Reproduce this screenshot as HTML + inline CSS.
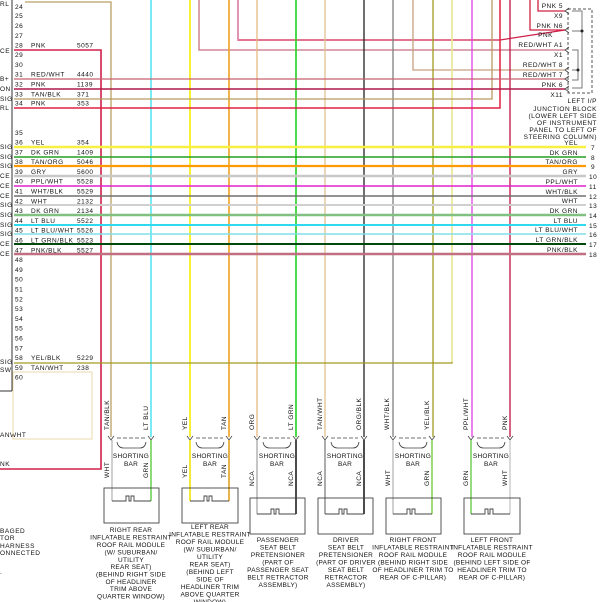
<!DOCTYPE html>
<html><head><meta charset="utf-8"><style>
html,body{margin:0;padding:0;background:#fff;}
svg{display:block;}
text{font-family:"Liberation Sans",sans-serif;font-size:6.5px;letter-spacing:0.5px;fill:#111;}
.c{text-anchor:middle;letter-spacing:0.25px;}
.r{text-anchor:end;}
</style></head><body>
<svg width="601" height="602" viewBox="0 0 601 602" xmlns="http://www.w3.org/2000/svg">
<rect width="601" height="602" fill="#fff"/>
<line x1="12" y1="0" x2="12" y2="391" stroke="#333" stroke-width="1"/>
<line x1="0" y1="391" x2="12" y2="391" stroke="#333"/>
<g>
<text x="0" y="6">RL</text><text x="0" y="53">CE</text><text x="0" y="81">B+</text><text x="0" y="91">ON</text><text x="0" y="101">SIG</text><text x="0" y="110">RL</text>
<text x="0" y="149">SIG</text><text x="0" y="159">SIG</text><text x="0" y="168">SIG</text><text x="0" y="178">CE</text><text x="0" y="188">CE</text><text x="0" y="198">CE</text><text x="0" y="207">SIG</text><text x="0" y="217">SIG</text><text x="0" y="227">SIG</text><text x="0" y="236">SIG</text><text x="0" y="246">CE</text><text x="0" y="256">CE</text>
<text x="0" y="364">SIG</text><text x="0" y="372">SW</text>
<text x="0" y="437">ANWHT</text><text x="0" y="466">NK</text>
<text x="0" y="533">BAGED</text><text x="0" y="540">TOR</text><text x="0" y="548">HARNESS</text><text x="0" y="555">ONNECTED</text><text x="0" y="574">.</text>
</g>
<g>
<text x="15" y="9">24</text><text x="15" y="18">25</text><text x="15" y="28">26</text><text x="15" y="38">27</text><text x="15" y="47.5">28</text><text x="15" y="57">29</text><text x="15" y="67">30</text><text x="15" y="76.5">31</text><text x="15" y="86.5">32</text><text x="15" y="96.5">33</text><text x="15" y="105.5">34</text>
<text x="15" y="135">35</text><text x="15" y="144.5">36</text><text x="15" y="154.3">37</text><text x="15" y="164">38</text><text x="15" y="174">39</text><text x="15" y="183.7">40</text><text x="15" y="193.5">41</text><text x="15" y="203.3">42</text><text x="15" y="213">43</text><text x="15" y="223">44</text><text x="15" y="232.7">45</text><text x="15" y="242.5">46</text><text x="15" y="252.3">47</text><text x="15" y="262">48</text><text x="15" y="272">49</text><text x="15" y="281.7">50</text><text x="15" y="291.5">51</text><text x="15" y="301.3">52</text><text x="15" y="311">53</text><text x="15" y="321">54</text><text x="15" y="330.7">55</text><text x="15" y="340.5">56</text><text x="15" y="350.3">57</text><text x="15" y="360">58</text><text x="15" y="370">59</text><text x="15" y="379.7">60</text>
</g>
<g>
<text x="31" y="47.5">PNK</text><text x="77" y="47.5">5057</text>
<text x="31" y="76.5">RED/WHT</text><text x="77" y="76.5">4440</text>
<text x="31" y="86.5">PNK</text><text x="77" y="86.5">1139</text>
<text x="31" y="96.5">TAN/BLK</text><text x="77" y="96.5">371</text>
<text x="31" y="105.5">PNK</text><text x="77" y="105.5">353</text>
<text x="31" y="144.5">YEL</text><text x="77" y="144.5">354</text>
<text x="31" y="154.3">DK GRN</text><text x="77" y="154.3">1409</text>
<text x="31" y="164">TAN/ORG</text><text x="77" y="164">5046</text>
<text x="31" y="174">GRY</text><text x="77" y="174">5600</text>
<text x="31" y="183.7">PPL/WHT</text><text x="77" y="183.7">5528</text>
<text x="31" y="193.5">WHT/BLK</text><text x="77" y="193.5">5529</text>
<text x="31" y="203.3">WHT</text><text x="77" y="203.3">2132</text>
<text x="31" y="213">DK GRN</text><text x="77" y="213">2134</text>
<text x="31" y="223">LT BLU</text><text x="77" y="223">5522</text>
<text x="31" y="232.7">LT BLU/WHT</text><text x="77" y="232.7">5526</text>
<text x="31" y="242.5">LT GRN/BLK</text><text x="77" y="242.5">5523</text>
<text x="31" y="252.3">PNK/BLK</text><text x="77" y="252.3">5527</text>
<text x="31" y="360">YEL/BLK</text><text x="77" y="360">5229</text>
<text x="31" y="370">TAN/WHT</text><text x="77" y="370">238</text>
</g>
<rect x="13" y="372" width="79" height="67" fill="none" stroke="#e8d8a8" stroke-width="1"/>
<g fill="none" stroke-width="1.3">
<polyline points="25,2 111,2 111,437" stroke="#b8a060"/>
<polyline points="14,50 101,50 101,469 0,469" stroke="#d0204a" stroke-width="1.6"/>
<line x1="151" y1="0" x2="151" y2="437" stroke="#30e0f0"/>
<line x1="190" y1="0" x2="190" y2="437" stroke="#f8f020" stroke-width="1.8"/>
<polyline points="199,0 199,50 565,50" stroke="#c87080"/>
<line x1="229" y1="0" x2="229" y2="437" stroke="#f0a020" stroke-width="1.6"/>
<polyline points="238,0 238,40 500,40 565,30" stroke="#d0204a"/>
<line x1="238" y1="0" x2="238" y2="40" stroke="#e090b0" stroke-width="1.8"/>
<line x1="257" y1="0" x2="257" y2="437" stroke="#e8b880"/>
<line x1="296" y1="0" x2="296" y2="437" stroke="#20d020" stroke-width="1.6"/>
<line x1="325" y1="0" x2="325" y2="437" stroke="#e0c090"/>
<line x1="364" y1="0" x2="364" y2="437" stroke="#222"/>
<line x1="393" y1="0" x2="393" y2="437" stroke="#808080"/>
<polyline points="413,0 413,70 565,70" stroke="#c8a080"/>
<line x1="433" y1="0" x2="433" y2="437" stroke="#a09a20"/>
<polyline points="14,363 452,363 452,0" stroke="#a09a20"/>
<line x1="452" y1="0" x2="452" y2="362" stroke="#f0f0a0" stroke-width="1.5"/>
<line x1="472" y1="0" x2="472" y2="437" stroke="#e040e0"/>
<polyline points="14,99 492,99 492,0" stroke="#b89a60"/>
<polyline points="14,108 500,108 500,0" stroke="#e02040" stroke-width="1.5"/>
<line x1="510" y1="0" x2="510" y2="437" stroke="#c01040"/>
<polyline points="530,0 530,30 565,30" stroke="#d02040"/>
<polyline points="538,0 538,11 565,11" stroke="#d02040"/>
<line x1="14" y1="79" x2="565" y2="79" stroke="#c86070"/>
<line x1="14" y1="89" x2="565" y2="89" stroke="#b01848" stroke-width="1.5"/>
</g>
<g stroke-width="1.5">
<line x1="14" y1="147" x2="586" y2="147" stroke="#f8f040" stroke-width="2.5"/>
<line x1="14" y1="157" x2="586" y2="157" stroke="#20a020"/>
<line x1="14" y1="166" x2="586" y2="166" stroke="#ff9a00" stroke-width="2.2"/>
<line x1="14" y1="176" x2="586" y2="176" stroke="#c8c8c8" stroke-width="2.5"/>
<line x1="14" y1="186" x2="586" y2="186" stroke="#e020d0"/>
<line x1="14" y1="196" x2="586" y2="196" stroke="#707070"/>
<line x1="14" y1="205" x2="586" y2="205" stroke="#d0d0d0" stroke-width="2"/>
<line x1="14" y1="215" x2="586" y2="215" stroke="#80c080" stroke-width="2.5"/>
<line x1="14" y1="225" x2="586" y2="225" stroke="#30d8f0" stroke-width="2"/>
<line x1="14" y1="234" x2="586" y2="234" stroke="#80e0e8"/>
<line x1="14" y1="244" x2="586" y2="244" stroke="#004a10" stroke-width="2"/>
<line x1="14" y1="254" x2="586" y2="254" stroke="#c07080" stroke-width="2.5"/>
</g>
<g>
<text class="r" x="578" y="145">YEL</text><text x="591" y="150">7</text>
<text class="r" x="578" y="155">DK GRN</text><text x="591" y="160">8</text>
<text class="r" x="578" y="164">TAN/ORG</text><text x="591" y="169">9</text>
<text class="r" x="578" y="174">GRY</text><text x="589" y="179">10</text>
<text class="r" x="578" y="184">PPL/WHT</text><text x="589" y="189">11</text>
<text class="r" x="578" y="194">WHT/BLK</text><text x="589" y="199">12</text>
<text class="r" x="578" y="203">WHT</text><text x="589" y="208">13</text>
<text class="r" x="578" y="213">DK GRN</text><text x="589" y="218">14</text>
<text class="r" x="578" y="223">LT BLU</text><text x="589" y="228">15</text>
<text class="r" x="578" y="232">LT BLU/WHT</text><text x="589" y="237">16</text>
<text class="r" x="578" y="242">LT GRN/BLK</text><text x="589" y="247">17</text>
<text class="r" x="578" y="252">PNK/BLK</text><text x="589" y="257">18</text>
</g>
<rect x="568" y="9" width="24" height="84" fill="none" stroke="#555" stroke-dasharray="3,2"/>
<g fill="none" stroke="#777">
<polyline points="572,11 582,11 582,88 572,88"/>
<polyline points="572,50 578,50 578,80 572,80"/>
<line x1="572" y1="31" x2="582" y2="31"/>
<line x1="572" y1="70" x2="578" y2="70"/>
</g>
<circle cx="582" cy="31" r="1.5" fill="#222"/><circle cx="578" cy="70" r="1.5" fill="#222"/>
<g fill="none" stroke="#444" stroke-width="0.8">
<path d="M569,8 L565,11 L569,14"/><path d="M569,27 L565,30 L569,33"/><path d="M569,47 L565,50 L569,53"/><path d="M569,67 L565,70 L569,73"/><path d="M569,76 L565,79 L569,82"/><path d="M569,86 L565,89 L569,92"/>
</g>
<g>
<text class="r" x="563" y="8">PNK 5</text><text class="r" x="563" y="18">X9</text>
<text class="r" x="563" y="28">PNK N6</text><text class="r" x="553" y="37">PNK</text>
<text class="r" x="563" y="47">RED/WHT A1</text><text class="r" x="563" y="57">X1</text>
<text class="r" x="563" y="67">RED/WHT 8</text><text class="r" x="563" y="77">RED/WHT 7</text>
<text class="r" x="563" y="87">PNK 6</text><text class="r" x="563" y="97">X11</text>
<text class="r" x="597" y="103">LEFT I/P</text>
<text class="r" x="597" y="111">JUNCTION BLOCK</text>
<text class="r" x="597" y="118">(LOWER LEFT SIDE</text>
<text class="r" x="597" y="125">OF INSTRUMENT</text>
<text class="r" x="597" y="132">PANEL TO LEFT OF</text>
<text class="r" x="597" y="139">STEERING COLUMN)</text>
</g>
<g fill="none" stroke="#444" stroke-width="0.8">
<path d="M108,436 L111,440 L114,436"/><path d="M148,436 L151,440 L154,436"/><line x1="117" y1="438" x2="145" y2="438" stroke-dasharray="4,2"/><path d="M117,442 Q118,448 124,448 L140,448 Q145,448 146,442"/>
<path d="M187,436 L190,440 L193,436"/><path d="M226,436 L229,440 L232,436"/><line x1="196" y1="438" x2="223" y2="438" stroke-dasharray="4,2"/><path d="M196,442 Q197,448 203,448 L218,448 Q223,448 224,442"/>
<path d="M254,436 L257,440 L260,436"/><path d="M293,436 L296,440 L299,436"/><line x1="263" y1="438" x2="290" y2="438" stroke-dasharray="4,2"/><path d="M263,442 Q264,448 270,448 L285,448 Q290,448 291,442"/>
<path d="M322,436 L325,440 L328,436"/><path d="M361,436 L364,440 L367,436"/><line x1="331" y1="438" x2="358" y2="438" stroke-dasharray="4,2"/><path d="M331,442 Q332,448 338,448 L353,448 Q358,448 359,442"/>
<path d="M390,436 L393,440 L396,436"/><path d="M429,436 L432,440 L435,436"/><line x1="399" y1="438" x2="426" y2="438" stroke-dasharray="4,2"/><path d="M399,442 Q400,448 406,448 L421,448 Q426,448 427,442"/>
<path d="M468,436 L471,440 L474,436"/><path d="M507,436 L510,440 L513,436"/><line x1="477" y1="438" x2="504" y2="438" stroke-dasharray="4,2"/><path d="M477,442 Q478,448 484,448 L499,448 Q504,448 505,442"/>
</g>
<g>
<text class="c" x="131" y="458">SHORTING</text><text class="c" x="131" y="466">BAR</text>
<text class="c" x="210" y="458">SHORTING</text><text class="c" x="210" y="466">BAR</text>
<text class="c" x="277" y="458">SHORTING</text><text class="c" x="277" y="466">BAR</text>
<text class="c" x="345" y="458">SHORTING</text><text class="c" x="345" y="466">BAR</text>
<text class="c" x="413" y="458">SHORTING</text><text class="c" x="413" y="466">BAR</text>
<text class="c" x="491" y="458">SHORTING</text><text class="c" x="491" y="466">BAR</text>
</g>
<g fill="none" stroke-width="1.2">
<line x1="112" y1="440" x2="112" y2="501" stroke="#b0b0b0"/><line x1="151" y1="440" x2="151" y2="501" stroke="#40c020"/>
<line x1="190" y1="440" x2="190" y2="501" stroke="#f0e820" stroke-width="1.8"/><line x1="229" y1="440" x2="229" y2="501" stroke="#e0a020" stroke-width="1.6"/>
<line x1="257" y1="440" x2="257" y2="514" stroke="#a0a0a0"/><line x1="296" y1="440" x2="296" y2="514" stroke="#111" stroke-width="1.5"/>
<line x1="325" y1="440" x2="325" y2="514" stroke="#909090" stroke-width="1.5"/><line x1="364" y1="440" x2="364" y2="514" stroke="#111" stroke-width="1.5"/>
<line x1="393" y1="440" x2="393" y2="514" stroke="#b0b0b0"/><line x1="432" y1="440" x2="432" y2="514" stroke="#60c020"/>
<line x1="471" y1="440" x2="471" y2="514" stroke="#50c030"/><line x1="510" y1="440" x2="510" y2="514" stroke="#c0c0c0"/>
</g>
<g fill="none" stroke="#444" stroke-width="0.9">
<rect x="104" y="488" width="55" height="35"/>
<rect x="182" y="488" width="56" height="35"/>
<rect x="250" y="498" width="55" height="36"/>
<rect x="318" y="498" width="55" height="36"/>
<rect x="386" y="498" width="55" height="36"/>
<rect x="464" y="498" width="56" height="36"/>
<path d="M112,501 L126,501 L126,496 L129,496 L129,501 L131,501 L131,496 L134,496 L134,501 L151,501"/>
<path d="M190,501 L204,501 L204,496 L207,496 L207,501 L209,501 L209,496 L212,496 L212,501 L229,501"/>
<path d="M257,514 L271,514 L271,509 L274,509 L274,514 L276,514 L276,509 L279,509 L279,514 L296,514"/>
<path d="M325,514 L339,514 L339,509 L342,509 L342,514 L344,514 L344,509 L347,509 L347,514 L364,514"/>
<path d="M393,514 L407,514 L407,509 L410,509 L410,514 L412,514 L412,509 L415,509 L415,514 L432,514"/>
<path d="M471,514 L485,514 L485,509 L488,509 L488,514 L490,514 L490,509 L493,509 L493,514 L510,514"/>
</g>
<g>
<text transform="translate(109,430) rotate(-90)">TAN/BLK</text>
<text transform="translate(148,430) rotate(-90)">LT BLU</text>
<text transform="translate(187,430) rotate(-90)">YEL</text>
<text transform="translate(226,430) rotate(-90)">TAN</text>
<text transform="translate(254,430) rotate(-90)">ORG</text>
<text transform="translate(293,430) rotate(-90)">LT GRN</text>
<text transform="translate(322,430) rotate(-90)">TAN/WHT</text>
<text transform="translate(361,430) rotate(-90)">ORG/BLK</text>
<text transform="translate(389,430) rotate(-90)">WHT/BLK</text>
<text transform="translate(429,430) rotate(-90)">YEL/BLK</text>
<text transform="translate(468,430) rotate(-90)">PPL/WHT</text>
<text transform="translate(507,430) rotate(-90)">PNK</text>
<text transform="translate(109,478) rotate(-90)">WHT</text>
<text transform="translate(148,478) rotate(-90)">GRN</text>
<text transform="translate(187,478) rotate(-90)">YEL</text>
<text transform="translate(226,478) rotate(-90)">TAN</text>
<text transform="translate(254,486) rotate(-90)">NCA</text>
<text transform="translate(293,486) rotate(-90)">NCA</text>
<text transform="translate(322,486) rotate(-90)">NCA</text>
<text transform="translate(361,486) rotate(-90)">NCA</text>
<text transform="translate(390,486) rotate(-90)">WHT</text>
<text transform="translate(429,486) rotate(-90)">GRN</text>
<text transform="translate(468,486) rotate(-90)">GRN</text>
<text transform="translate(507,486) rotate(-90)">WHT</text>
</g>
<g>
<text class="c" x="131" y="532">RIGHT REAR</text><text class="c" x="131" y="539.5">INFLATABLE RESTRAINT</text><text class="c" x="131" y="547">ROOF RAIL MODULE</text><text class="c" x="131" y="554.5">(W/ SUBURBAN/</text><text class="c" x="131" y="562">UTILITY</text><text class="c" x="131" y="569">REAR SEAT)</text><text class="c" x="131" y="576.5">(BEHIND RIGHT SIDE</text><text class="c" x="131" y="584">OF HEADLINER</text><text class="c" x="131" y="591">TRIM ABOVE</text><text class="c" x="131" y="598.5">QUARTER WINDOW)</text>
<text class="c" x="210" y="529">LEFT REAR</text><text class="c" x="210" y="536.5">INFLATABLE RESTRAINT</text><text class="c" x="210" y="544">ROOF RAIL MODULE</text><text class="c" x="210" y="551.5">(W/ SUBURBAN/</text><text class="c" x="210" y="559">UTILITY</text><text class="c" x="210" y="566.5">REAR SEAT)</text><text class="c" x="210" y="574">(BEHIND LEFT</text><text class="c" x="210" y="581.5">SIDE OF</text><text class="c" x="210" y="589">HEADLINER TRIM</text><text class="c" x="210" y="596.5">ABOVE QUARTER</text><text class="c" x="210" y="604">WINDOW)</text>
<text class="c" x="278" y="542">PASSENGER</text><text class="c" x="278" y="549.5">SEAT BELT</text><text class="c" x="278" y="557">PRETENSIONER</text><text class="c" x="278" y="564.5">(PART OF</text><text class="c" x="278" y="572">PASSENGER SEAT</text><text class="c" x="278" y="579.5">BELT RETRACTOR</text><text class="c" x="278" y="587">ASSEMBLY)</text>
<text class="c" x="346" y="542">DRIVER</text><text class="c" x="346" y="549.5">SEAT BELT</text><text class="c" x="346" y="557">PRETENSIONER</text><text class="c" x="346" y="564.5">(PART OF DRIVER</text><text class="c" x="346" y="572">SEAT BELT</text><text class="c" x="346" y="579.5">RETRACTOR</text><text class="c" x="346" y="587">ASSEMBLY)</text>
<text class="c" x="413" y="542">RIGHT FRONT</text><text class="c" x="413" y="549.5">INFLATABLE RESTRAINT</text><text class="c" x="413" y="557">ROOF RAIL MODULE</text><text class="c" x="413" y="564.5">(BEHIND RIGHT SIDE</text><text class="c" x="413" y="572">OF HEADLINER TRIM TO</text><text class="c" x="413" y="579.5">REAR OF C-PILLAR)</text>
<text class="c" x="492" y="542">LEFT FRONT</text><text class="c" x="492" y="549.5">INFLATABLE RESTRAINT</text><text class="c" x="492" y="557">ROOF RAIL MODULE</text><text class="c" x="492" y="564.5">(BEHIND LEFT SIDE OF</text><text class="c" x="492" y="572">HEADLINER TRIM TO</text><text class="c" x="492" y="579.5">REAR OF C-PILLAR)</text>
</g>
</svg>
</body></html>
